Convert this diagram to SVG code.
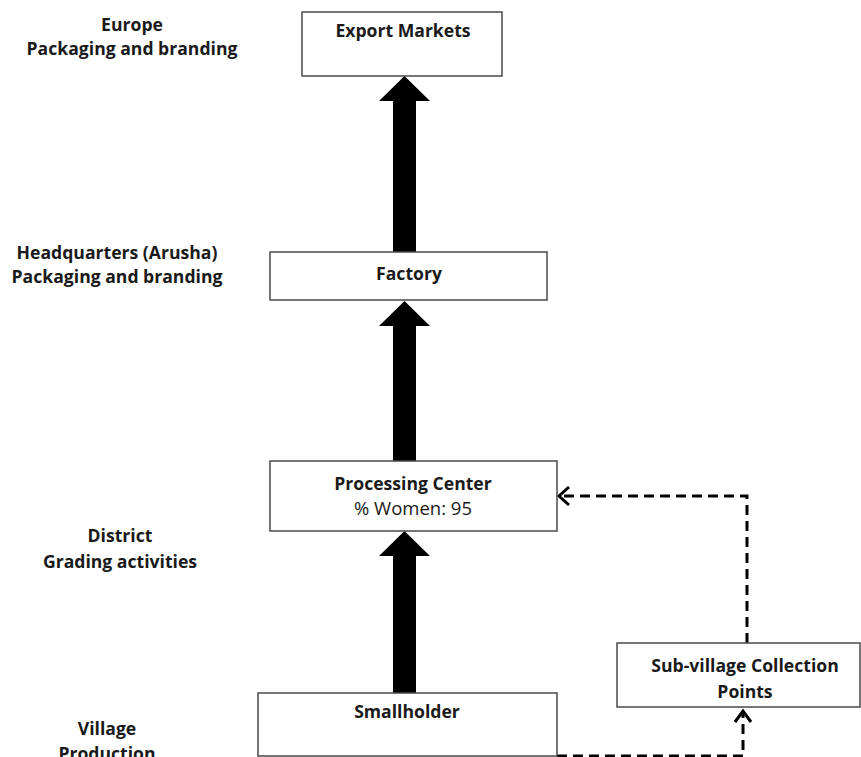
<svg xmlns="http://www.w3.org/2000/svg" width="861" height="757" viewBox="0 0 861 757">
<defs>
<style>
text{font-family:"Open Sans",Lato,"Liberation Sans",sans-serif;font-size:17.6px;fill:#1a1a1a;text-anchor:middle;font-weight:bold}
.n{font-weight:normal;font-size:18.5px}
.box{fill:#fff;stroke:#4a4a4a;stroke-width:1.5}
.dash{fill:none;stroke:#000;stroke-width:3;stroke-dasharray:10 6}
.chev{fill:none;stroke:#000;stroke-width:3}
.big{fill:#000}
</style>
</defs>
<rect width="861" height="757" fill="#fff"/>
<g id="labels">
<text x="132" y="31">Europe</text>
<text x="132" y="55">Packaging and branding</text>
<text x="117" y="259">Headquarters (Arusha)</text>
<text x="117" y="283">Packaging and branding</text>
<text x="120" y="542">District</text>
<text x="120" y="568">Grading activities</text>
<text x="107" y="735">Village</text>
<text x="107" y="760">Production</text>
</g>
<g id="connectors">
<polygon class="big" points="393,252 393,101 379,101 404.5,76 430,101 416,101 416,252"/>
<polygon class="big" points="393,461 393,326 379,326 404.5,301 430,326 416,326 416,461"/>
<polygon class="big" points="393,693 393,556 379,556 404.5,531 430,556 416,556 416,693"/>
<path class="dash" d="M747,643 V496 H560"/>
<path class="chev" d="M569,487 L559,496 L569,505"/>
<path class="dash" d="M557,756 H743 V712"/>
<path class="chev" d="M735,722 L743,711 L751,722"/>
</g>
<g id="export-markets">
<rect class="box" x="302" y="12" width="200" height="64"/>
<text x="403" y="37">Export Markets</text>
</g>
<g id="factory">
<rect class="box" x="270" y="252" width="277" height="48"/>
<text x="409" y="280">Factory</text>
</g>
<g id="processing-center">
<rect class="box" x="270" y="461" width="287" height="70"/>
<text x="413" y="490">Processing Center</text>
<text class="n" x="413" y="515">% Women: 95</text>
</g>
<g id="sub-village">
<rect class="box" x="617" y="643" width="243" height="64"/>
<text x="745" y="672">Sub-village Collection</text>
<text x="745" y="698">Points</text>
</g>
<g id="smallholder">
<rect class="box" x="258" y="693" width="299" height="63"/>
<text x="407" y="718">Smallholder</text>
</g>
</svg>
